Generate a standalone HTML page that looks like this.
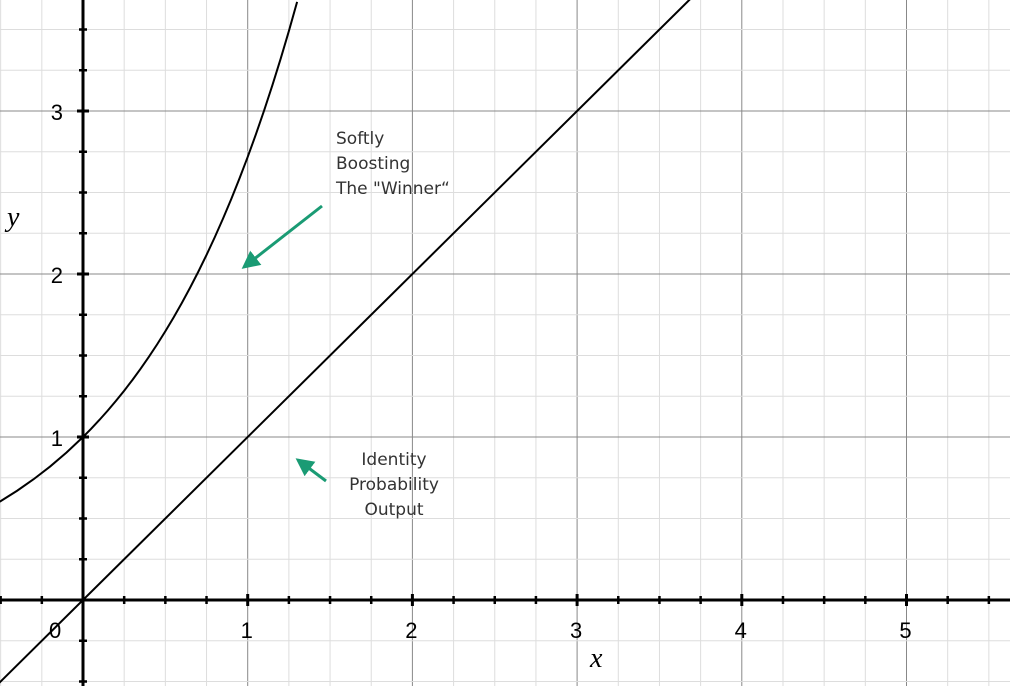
<!DOCTYPE html>
<html><head><meta charset="utf-8"><style>
html,body{margin:0;padding:0;background:#fff;}
svg{display:block;font-family:"Liberation Sans",sans-serif;}
</style></head><body>
<svg id="c" width="1010" height="686" viewBox="0 0 1010 686"></svg>
<script>
const xTicks=[1,2,3,4,5];
const yTicks=[1,2,3];
const curveXs=[-0.6,-0.5,-0.4,-0.3,-0.2,-0.1,0,0.05,0.1,0.15,0.2,0.25,0.3,0.35,0.4,0.45,0.5,0.55,0.6,0.65,0.7,0.75,0.8,0.85,0.9,0.95,1,1.05,1.1,1.15,1.2,1.25,1.3];
const curveYs=curveXs.map(v=>Math.exp(v));
const identityXs=[-0.6,4];
const identityYs=[-0.6,4];
const X0=83,Y0=600,SX=164.7,SY=163;
const sx=v=>X0+v*SX, sy=v=>Y0-v*SY;
const svg=document.getElementById('c');
const NS='http://www.w3.org/2000/svg';
function mk(t,a,p){const e=document.createElementNS(NS,t);for(const k in a)e.setAttribute(k,a[k]);(p||svg).appendChild(e);return e;}
const grid=mk('g',{});


for(let i=-2;i<=23;i++){const v=i*0.25,x=sx(v);if(x<0||x>1010)continue;
 mk('line',{x1:x,y1:0,x2:x,y2:686,stroke:i%4===0?'#888':'#ddd','stroke-width':1},grid);}
for(let i=-2;i<=15;i++){const v=i*0.25,y=sy(v);if(y<0||y>686)continue;
 mk('line',{x1:0,y1:y,x2:1010,y2:y,stroke:i%4===0?'#888':'#ddd','stroke-width':1},grid);}
const ax=mk('g',{});


mk('line',{x1:0,y1:Y0,x2:1010,y2:Y0,stroke:'#000','stroke-width':3},ax);
mk('line',{x1:X0,y1:0,x2:X0,y2:686,stroke:'#000','stroke-width':3},ax);
for(let i=-2;i<=23;i++){const x=sx(i*0.25);const L=i%4===0?6:4;
 mk('line',{x1:x,y1:Y0-L,x2:x,y2:Y0+L,stroke:'#000','stroke-width':i%4===0?3:2.5},ax);}
for(let i=-2;i<=15;i++){const y=sy(i*0.25);const L=i%4===0?6:4;
 mk('line',{x1:X0-L,y1:y,x2:X0+L,y2:y,stroke:'#000','stroke-width':i%4===0?3:2.5},ax);}
xTicks.forEach(v=>{const t=mk('text',{x:sx(v)-1,y:Y0+38,'text-anchor':'middle','font-size':'22px'},ax);t.textContent=v;
 });
yTicks.forEach(v=>{const t=mk('text',{x:X0-20,y:sy(v)+9,'text-anchor':'end','font-size':'22px'},ax);t.textContent=v;
 });
const z=mk('text',{x:X0-34,y:Y0+38,'font-size':'22px'},ax);z.textContent='0';

const xl=mk('text',{x:590,y:667,'font-size':'28px','font-style':'italic','font-family':'Liberation Serif,serif'});xl.textContent='x';

const yl=mk('text',{x:7,y:226,'font-size':'28px','font-style':'italic','font-family':'Liberation Serif,serif'});yl.textContent='y';

const cp=curveXs.map((v,i)=>sx(v)+','+sy(curveYs[i])).join(' ');
const c1=mk('polyline',{points:cp,fill:'none',stroke:'#000','stroke-width':2});

const c2=mk('line',{x1:sx(identityXs[0]),y1:sy(identityYs[0]),x2:sx(identityXs[1]),y2:sy(identityYs[1]),stroke:'#000','stroke-width':2});

const defs=mk('defs',{});
const m=mk('marker',{id:'ah',markerWidth:6,markerHeight:6,refX:5,refY:3,orient:'auto',markerUnits:'strokeWidth'},defs);
mk('path',{d:'M0,0 L6,3 L0,6 z',fill:'#1a9b74'},m);
const a1=mk('line',{x1:322,y1:206,x2:244,y2:267,stroke:'#1a9b74','stroke-width':3,'marker-end':'url(#ah)'});

const a2=mk('line',{x1:326,y1:481,x2:298,y2:460,stroke:'#1a9b74','stroke-width':3,'marker-end':'url(#ah)'});

function txt(lines,x,y,anchor,name){const t=mk('text',{x:x,y:y,'font-size':'17px',fill:'#333','text-anchor':anchor,'font-family':'DejaVu Sans,sans-serif'});
 
 lines.forEach((l,i)=>{const s=mk('tspan',{x:x,dy:i?25:0},t);s.textContent=l;});}
txt(['Softly','Boosting','The "Winner“'],336,144,'start','winner-annotation');
txt(['Identity','Probability','Output'],394,465,'middle','identity-annotation');
</script>
</body></html>
